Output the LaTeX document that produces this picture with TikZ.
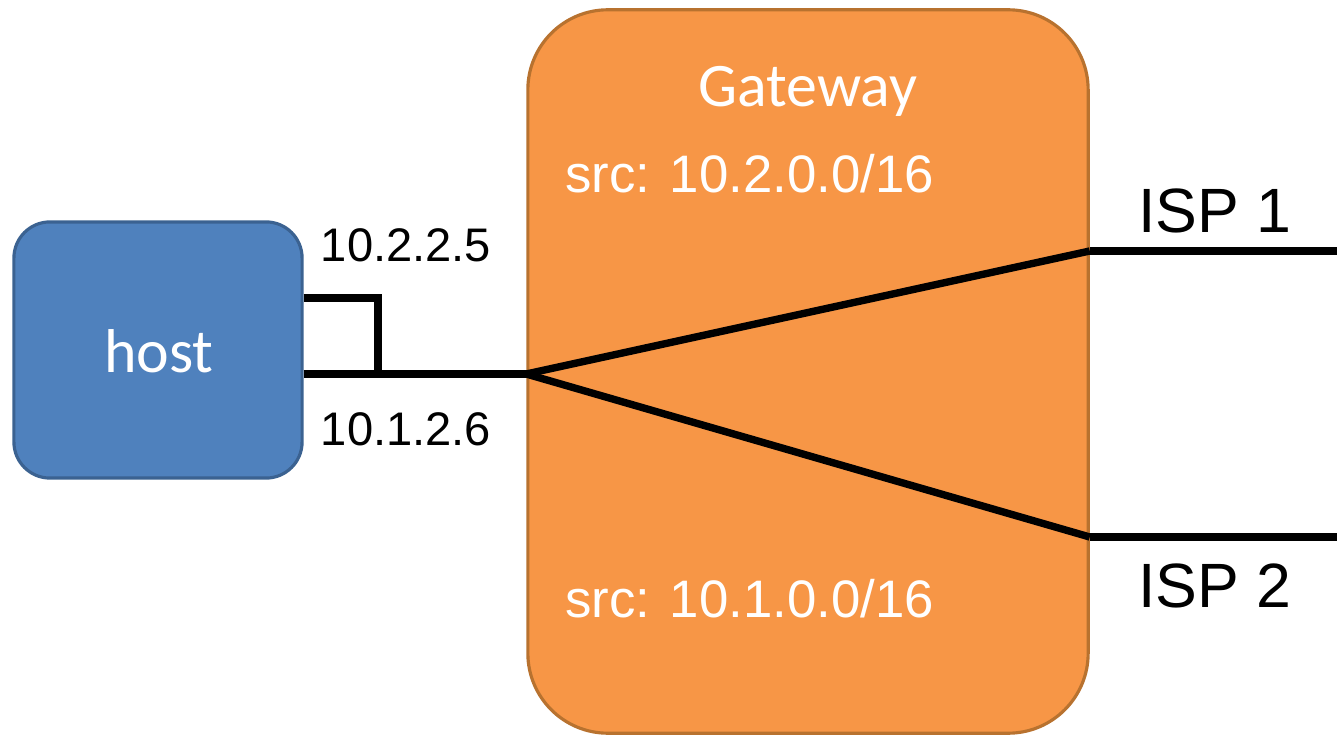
\documentclass[tikz,border=0pt]{standalone}
\usepackage{fontspec}
\setmainfont{Liberation Sans}
\newfontfamily\calibri{Carlito}
\usepackage{tikz}
\usetikzlibrary{positioning}
\usetikzlibrary{calc}
\definecolor{hostblue}{HTML}{4F81BD}
\definecolor{hostedge}{HTML}{3B6291}
\definecolor{gworange}{HTML}{F79646}
\definecolor{gwedge}{HTML}{B8722F}
\tikzset{
  % Common styles for the diagram
  wire/.style={draw, line width=2.1pt, line cap=butt},
  iplabel/.style={font=\fontsize{13.4}{15}\selectfont, inner sep=0pt, anchor=base},
  srclabel/.style={font=\fontsize{15}{17}\selectfont, text=white, inner sep=0pt, anchor=base west},
  isplabel/.style={font=\fontsize{17.8}{20}\selectfont, inner sep=0pt, anchor=base west}
}

\begin{document}
\begin{tikzpicture}[x=0.01cm, y=-0.01cm, thick]
    % Define styles
    \tikzstyle{device} = [rectangle, draw=hostedge, line width=0.9pt, fill=hostblue, minimum width=2.88cm, minimum height=2.56cm, rounded corners=0.36cm]
    \tikzstyle{gateway} = [rectangle, draw=gwedge, line width=0.9pt, fill=gworange, minimum width=5.6cm, minimum height=7.23cm, rounded corners=0.8cm]
    \tikzstyle{title} = [font=\calibri\fontsize{17.6}{20}\selectfont, text=white, inner sep=0pt, anchor=base]

    \useasboundingbox (0,0) rectangle (1337,737);

    % Place nodes
    \node [device] (host) at (158,350) {};
    \node [gateway] (gw) at (808,371.5) {};
    \node [title] (hostname) at (159,373) {host};
    \node [title] (gwname) at (808,107) {Gateway};
    \node [srclabel] (src2) at (564,193) {src: 10.2.0.0/16};
    \node [srclabel] (src1) at (564,617) {src: 10.1.0.0/16};
    \node [iplabel] (ip2) at (406,262) {10.2.2.5};
    \node [iplabel] (ip1) at (406,445) {10.1.2.6};
    \node [isplabel] (isp1) at (1137,233) {ISP 1};
    \node [isplabel] (isp2) at (1137,607) {ISP 2};

    % Wire ends
    \coordinate (portA) at (host.east |- 0,298);
    \coordinate (portB) at (host.east |- 0,374);
    \coordinate (loop) at (378,298);
    \coordinate (hub) at (gw.west |- 0,374);
    \coordinate (upA) at (gw.east |- 0,251);
    \coordinate (upB) at (1337,251);
    \coordinate (downA) at (gw.east |- 0,537);
    \coordinate (downB) at (1337,537);

    % Draw edges
    \path [wire, line join=miter] (portA) -- (loop) -- (loop |- portB);
    \path [wire] (portB) -- (hub);
    \path [wire] (hub) -- (upA);
    \path [wire] (hub) -- (downA);
    \path [wire] (upA) -- (upB);
    \path [wire] (downA) -- (downB);

\end{tikzpicture}
\end{document}
